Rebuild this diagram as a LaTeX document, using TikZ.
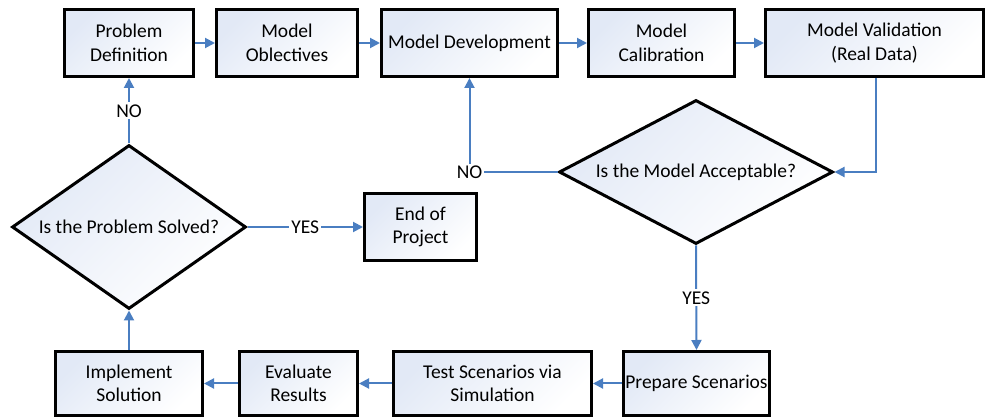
\documentclass[tikz,border=0pt]{standalone}
\usepackage{fontspec}
\setmainfont{Carlito}
\usetikzlibrary{arrows.meta,shapes.geometric}
\definecolor{boxfill}{RGB}{226,233,246}
\definecolor{linkblue}{RGB}{74,126,193}
\tikzset{
  stepbox/.style={draw=black, line width=3pt, rectangle, inner sep=1pt, align=center,
    top color=boxfill, bottom color=white, shading angle=45,
    font=\fontsize{19.5}{23.5}\selectfont},
  decision/.style={draw=black, line width=3pt, diamond, inner sep=0pt, align=center,
    top color=boxfill, bottom color=white, shading angle=45,
    font=\fontsize{19.5}{23.5}\selectfont},
  link/.style={draw=linkblue, line width=2pt, -{Triangle[length=10pt,width=10pt]}},
  plainlink/.style={draw=linkblue, line width=2pt},
  lbl/.style={fill=white, inner sep=2pt, text=black, font=\fontsize{19.5}{23.5}\selectfont}
}
\begin{document}
\begin{tikzpicture}[x=1pt,y=-1pt]
\useasboundingbox (0,0) rectangle (986,419);
% top row
\node[stepbox, minimum width=129pt, minimum height=67pt] (pd) at (129,43) {Problem\\Definition};
\node[stepbox, minimum width=141pt, minimum height=67pt] (mo) at (287,43) {Model\\Oblectives};
\node[stepbox, minimum width=176pt, minimum height=67pt] (md) at (469.5,43) {Model Development};
\node[stepbox, minimum width=146pt, minimum height=67pt] (mc) at (661.5,43) {Model\\Calibration};
\node[stepbox, minimum width=218pt, minimum height=67pt] (mv) at (874.5,43) {Model Validation\\(Real Data)};
% decisions
\node[decision, minimum width=274pt, minimum height=144pt, aspect=1.9] (da) at (696,172) {Is the Model Acceptable?};
\node[decision, minimum width=234pt, minimum height=164pt, aspect=1.43] (ds) at (129,227) {Is the Problem Solved?};
\node[stepbox, minimum width=112pt, minimum height=67pt] (ep) at (420.5,227) {End of\\Project};
% bottom row
\node[stepbox, minimum width=147pt, minimum height=64pt] (is) at (129,383.5) {Implement\\Solution};
\node[stepbox, minimum width=118pt, minimum height=64pt] (er) at (298.5,383.5) {Evaluate\\Results};
\node[stepbox, minimum width=198pt, minimum height=64pt] (ts) at (492.5,383.5) {Test Scenarios via\\Simulation};
\node[stepbox, minimum width=146pt, minimum height=64pt, inner sep=0pt] (ps) at (696.5,383.5) {Prepare Scenarios};
% connectors
\draw[link] (pd) -- (mo);
\draw[link] (mo) -- (md);
\draw[link] (md) -- (mc);
\draw[link] (mc) -- (mv);
\coordinate (mvout) at ([xshift=1.5pt]mv.south);
\draw[link] (mvout) |- (da.east);
\draw[link] (da.west) -| node[lbl, pos=0.5] {NO} (md.south);
\draw[link] (da.south) -- node[lbl] {YES} (ps.north);
\draw[link] (ps) -- (ts);
\draw[link] (ts) -- (er);
\draw[link] (er) -- (is);
\draw[link] (is.north) -- (ds.south);
\draw[link] (ds.north) -- node[lbl] {NO} (pd.south);
\draw[link] (ds.east) -- node[lbl] {YES} (ep.west);
\end{tikzpicture}
\end{document}
